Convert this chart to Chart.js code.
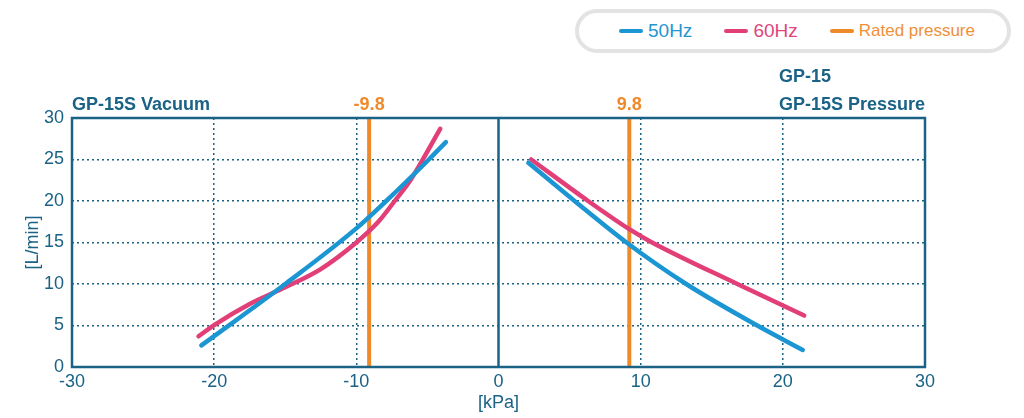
<!DOCTYPE html>
<html>
<head>
<meta charset="utf-8">
<script src="https://cdn.jsdelivr.net/npm/chart.js"></script>
<style>
  html, body { margin: 0; padding: 0; background: #fff; }
  #wrap { position: relative; width: 1024px; height: 418px; }
  #legend { position: absolute; left: 575px; top: 9px; width: 420px; height: 36px;
            border: 4px solid #e3e3e3; border-radius: 22px; background: #fff;
            font-family: "Liberation Sans", Arial, sans-serif; display: flex;
            align-items: center; justify-content: center; padding-left: 8px; box-sizing: content-box; }
  #legend .item { display: flex; align-items: center; margin: 0 16px; }
  #legend .swatch { width: 24px; height: 4px; border-radius: 2px; margin-right: 5px; }
</style>
</head>
<body>
<div id="wrap">
  <canvas id="gp15" width="1024" height="418"></canvas>
  <div id="legend"></div>
</div>
<script>
// vacuum side, 50Hz / 60Hz  [kPa, L/min]
const vac50x = [-20.9, -15, -10, -7.9, -4.9, -3.7];
const vac50y = [2.6, 10.0, 16.7, 20.0, 25.0, 27.1];
const vac60x = [-21.1, -20, -17.5, -15, -12.5, -10, -8.5, -7.3, -6.2, -4.1];
const vac60y = [3.7, 5.05, 7.6, 9.6, 11.8, 15.0, 17.4, 20.0, 22.5, 28.7];
// pressure side
const pr50x = [2.1, 5.35, 9.0, 13.2, 18.2, 21.4];
const pr50y = [24.6, 20.0, 15.0, 10.0, 5.0, 2.05];
const pr60x = [2.3, 6.3, 9.2, 10.7, 16.8, 21.5];
const pr60y = [25.0, 20.0, 16.6, 15.1, 10.0, 6.2];
// rated pressure markers (drawn position / printed label)
const ratedX = [-9.1, 9.2];
const ratedLabels = ['-9.8', '9.8'];
const xTicks = [-30, -20, -10, 0, 10, 20, 30];
const yTicks = [0, 5, 10, 15, 20, 25, 30];

const TEAL = '#1a6286', BLUE = '#1b96d3', RED = '#e23f78', ORANGE = '#ee8a2a';
const FONT = '"Liberation Sans", Arial, sans-serif';

const pts = (xs, ys) => xs.map((x, i) => ({x: x, y: ys[i]}));
const curve = (label, xs, ys, color, order) => ({
  label: label, data: pts(xs, ys), borderColor: color, backgroundColor: color,
  borderWidth: 4.5, pointRadius: 0, showLine: true, cubicInterpolationMode: 'monotone',
  order: order, borderCapStyle: 'round'
});

const datasets = [
  curve('50Hz', vac50x, vac50y, BLUE, 1),
  curve('60Hz', vac60x, vac60y, RED, 2),
  curve('50Hz', pr50x, pr50y, BLUE, 1),
  curve('60Hz', pr60x, pr60y, RED, 2),
  {label: '', data: [{x: 0, y: yTicks[0]}, {x: 0, y: yTicks[yTicks.length - 1]}],
   borderColor: TEAL, borderWidth: 2.5, pointRadius: 0, showLine: true, order: 6}
];
ratedX.forEach(v => datasets.push({
  label: 'Rated pressure', data: [{x: v, y: yTicks[0]}, {x: v, y: yTicks[yTicks.length - 1]}],
  borderColor: ORANGE, borderWidth: 4, pointRadius: 0, showLine: true, order: 5
}));

// frame + headings above the plot
const decor = {
  id: 'decor',
  afterDatasetsDraw(chart) {
    const c = chart.ctx, a = chart.chartArea, xs = chart.scales.x;
    c.save();
    c.strokeStyle = TEAL; c.lineWidth = 2.5;
    c.strokeRect(a.left, a.top, a.right - a.left, a.bottom - a.top);
    c.textBaseline = 'alphabetic';
    c.font = 'bold 18px ' + FONT;
    c.fillStyle = TEAL;
    c.textAlign = 'left';
    c.fillText('GP-15S Vacuum', a.left, a.top - 8);
    const w = c.measureText('GP-15S Pressure').width;
    c.fillText('GP-15', a.right - w, a.top - 36);
    c.fillText('GP-15S Pressure', a.right - w, a.top - 8);
    c.fillStyle = ORANGE; c.textAlign = 'center';
    ratedX.forEach((v, i) => c.fillText(ratedLabels[i], xs.getPixelForValue(v), a.top - 8));
    c.restore();
  }
};

const chart = new Chart(document.getElementById('gp15'), {
  type: 'scatter',
  data: { datasets: datasets },
  options: {
    responsive: false, animation: false,
    layout: { padding: { top: 118, right: 99, left: 0, bottom: 0 } },
    plugins: { legend: { display: false }, tooltip: { enabled: false } },
    scales: {
      x: {
        type: 'linear', min: xTicks[0], max: xTicks[xTicks.length - 1],
        afterBuildTicks: s => { s.ticks = xTicks.map(v => ({value: v})); },
        afterFit: s => { s.height = 51; },
        grid: { color: ctx => (ctx.tick && [-30, 0, 30].includes(ctx.tick.value)) ? 'rgba(0,0,0,0)' : TEAL,
                lineWidth: 1.5, drawTicks: false },
        border: { display: false, dash: [2, 3] },
        ticks: { color: TEAL, font: { family: FONT, size: 18 }, padding: 4, callback: v => String(v) },
        title: { display: true, text: '[kPa]', color: TEAL, font: { family: FONT, size: 18 }, padding: { top: 0 } }
      },
      y: {
        type: 'linear', min: yTicks[0], max: yTicks[yTicks.length - 1],
        afterBuildTicks: s => { s.ticks = yTicks.map(v => ({value: v})); },
        afterFit: s => { s.width = 72; },
        grid: { color: ctx => (ctx.tick && [0, 30].includes(ctx.tick.value)) ? 'rgba(0,0,0,0)' : TEAL,
                lineWidth: 1.5, drawTicks: false },
        border: { display: false, dash: [2, 3] },
        ticks: { color: TEAL, font: { family: FONT, size: 18 }, padding: 8 },
        title: { display: true, text: '[L/min]', color: TEAL, font: { family: FONT, size: 18 }, padding: { top: 22, bottom: 0 } }
      }
    }
  },
  plugins: [decor]
});

// html legend from the dataset labels
const legendColors = { '50Hz': ['#1b96d3', '#2596d2'], '60Hz': ['#e23f78', '#e0457c'], 'Rated pressure': ['#ee8a2a', '#ef8f3a'] };
const seen = [];
chart.data.datasets.forEach(d => { if (d.label && !seen.includes(d.label)) seen.push(d.label); });
const lg = document.getElementById('legend');
seen.forEach(name => {
  const it = document.createElement('div'); it.className = 'item';
  const sw = document.createElement('div'); sw.className = 'swatch'; sw.style.background = legendColors[name][0];
  const tx = document.createElement('span'); tx.textContent = name; tx.style.color = legendColors[name][1];
  tx.style.fontSize = name === 'Rated pressure' ? '17px' : '19px';
  it.appendChild(sw); it.appendChild(tx); lg.appendChild(it);
});
</script>
</body>
</html>
